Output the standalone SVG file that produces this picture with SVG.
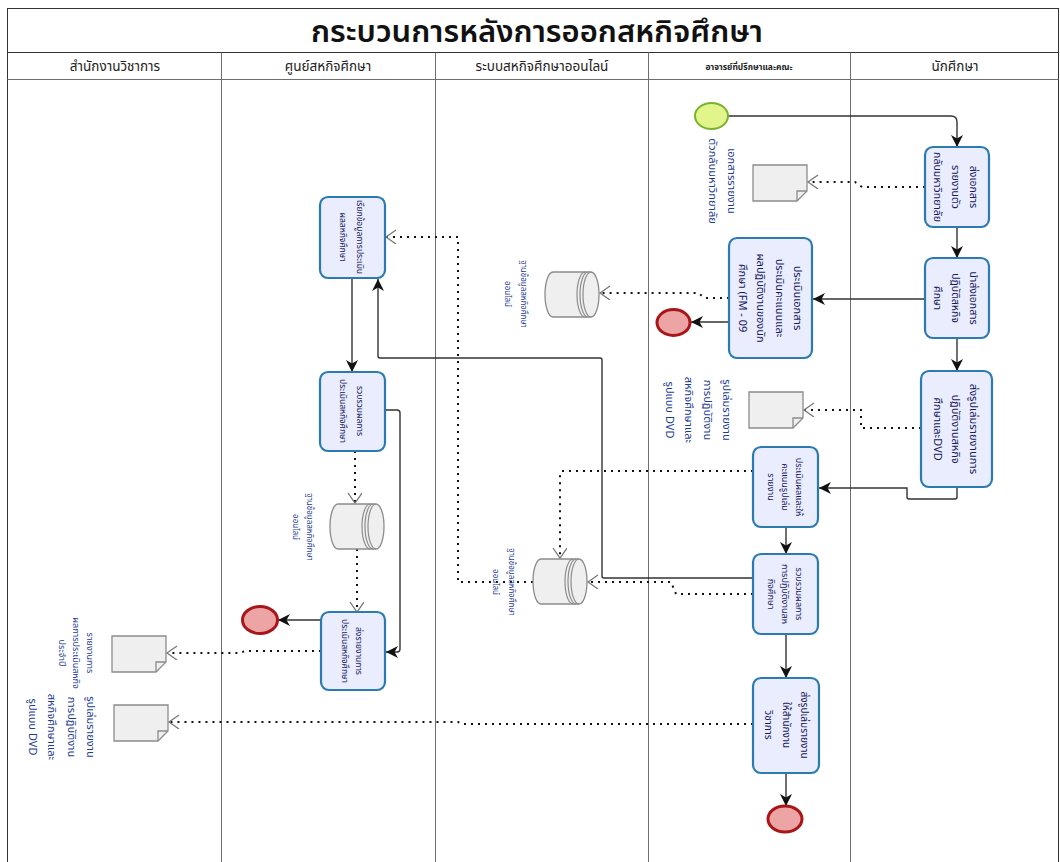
<svg xmlns="http://www.w3.org/2000/svg" width="1060" height="862" viewBox="0 0 1060 862">
<style>
text{font-family:"Noto Sans Thai","Noto Sans","DejaVu Sans","Liberation Sans",sans-serif}
.lane{stroke:#6e6e6e;stroke-width:1;fill:none}
.frame{stroke:#333;stroke-width:1;fill:none}
.title{font-size:31px;font-weight:600;fill:#111;text-anchor:middle}
.hdr{font-size:13.5px;fill:#222;text-anchor:middle}
.task{fill:#e9edfd;stroke:#2b7bb0;stroke-width:2.2}
.tt{fill:#18185c;text-anchor:middle}
.lbl{fill:#1c3d8f;text-anchor:middle}
.start{fill:#e2f58a;stroke:#78b22e;stroke-width:2}
.end{fill:#eca4a4;stroke:#a8161a;stroke-width:3}
.flow{fill:none;stroke:#333;stroke-width:1.4;marker-end:url(#arr)}
.assoc{fill:none;stroke:#111;stroke-width:2;stroke-dasharray:2 5;marker-end:url(#oarr)}
.docb{fill:#efefef;stroke:#8c8c8c;stroke-width:1.3}
</style>
<defs>
<marker id="arr" markerUnits="userSpaceOnUse" markerWidth="14" markerHeight="14" refX="12" refY="6" orient="auto">
<path d="M0,0 L12,6 L0,12 L3.5,6 Z" fill="#111"/>
</marker>
<marker id="oarr" markerUnits="userSpaceOnUse" markerWidth="16" markerHeight="16" refX="11" refY="7" orient="auto">
<path d="M1,0 L11,7 L1,14" fill="none" stroke="#777" stroke-width="1.3" stroke-dasharray="none"/>
</marker>
<g id="doc">
<path class="docb" d="M0,0 H54 V26 L44,36 H0 Z"/>
<path d="M44,36 V26 H54" fill="none" stroke="#8c8c8c" stroke-width="1.3"/>
</g>
<g id="ds">
<path class="docb" d="M8,0 H46 A8,22.5 0 0 1 46,45 H8 A8,22.5 0 0 1 8,0 Z"/>
<path d="M46,0 A8,22.5 0 0 0 46,45 M43,0 A8,22.5 0 0 0 43,45 M40,0 A8,22.5 0 0 0 40,45" fill="none" stroke="#8c8c8c" stroke-width="1.2"/>
</g>
</defs>

<g id="pool">
<rect class="frame" x="7.5" y="8.5" width="1051" height="870"/>
<line class="frame" x1="7.5" y1="52.5" x2="1058.5" y2="52.5"/>
<line class="lane" x1="7.5" y1="79.5" x2="1058.5" y2="79.5"/>
<line class="lane" x1="221.5" y1="52.5" x2="221.5" y2="862"/>
<line class="lane" x1="435.5" y1="52.5" x2="435.5" y2="862"/>
<line class="lane" x1="648.5" y1="52.5" x2="648.5" y2="862"/>
<line class="lane" x1="850.5" y1="52.5" x2="850.5" y2="862"/>
<text class="title" x="537" y="42">กระบวนการหลังการออกสหกิจศึกษา</text>
<text class="hdr" x="115" y="71">สำนักงานวิชาการ</text>
<text class="hdr" x="328" y="71">ศูนย์สหกิจศึกษา</text>
<text class="hdr" x="542" y="71">ระบบสหกิจศึกษาออนไลน์</text>
<text class="hdr" x="749" y="70" style="font-size:8.5px;font-weight:bold">อาจารย์ที่ปรึกษาและคณะ</text>
<text class="hdr" x="955" y="71">นักศึกษา</text>
</g>

<g id="connectors">
<path class="flow" d="M728,116 H951 Q957,116 957,122 V147"/>
<path class="flow" d="M957,227 V258"/>
<path class="flow" d="M957,338 V371"/>
<path class="assoc" d="M925,187 H862 L855,182 H808"/>
<path class="flow" d="M925,299 H813"/>
<path class="flow" d="M729,322 H691"/>
<path class="assoc" d="M729,298 H705 L698,293 H600"/>
<path class="assoc" d="M921,428 H861 V410 H804"/>
<path class="flow" d="M957,487 V497 Q957,499 955,499 H909 Q907,499 907,497 V488 H819"/>
<path class="flow" d="M786,527 V554"/>
<path class="assoc" d="M753,471 H562 Q560,471 560,473 V558"/>
<path class="flow" d="M753,578 H604 Q602,578 602,576 V360 Q602,358 600,358 H380 Q378,358 378,356 V279"/>
<path class="assoc" d="M753,594 H676 L671,582 H588"/>
<path class="assoc" d="M533,582 H458 V237 H386"/>
<path class="flow" d="M786,634 V678"/>
<path class="flow" d="M786,773 V806"/>
<path class="assoc" d="M753,724 H462 L458,722 H169"/>
<path class="flow" d="M352,278 V372"/>
<path class="flow" d="M385,410 H397 Q400,410 400,413 V649 Q400,652 397,652 H386"/>
<path class="assoc" d="M355,451 V503"/>
<path class="assoc" d="M357,549 V612"/>
<path class="flow" d="M321,620 H278"/>
<path class="assoc" d="M321,651 H245 L240,653 H167"/>
</g>

<g id="start"><ellipse class="start" cx="711.5" cy="116" rx="16.5" ry="13"/></g>
<g id="end1"><ellipse class="end" cx="673.5" cy="322.5" rx="16.5" ry="13"/></g>
<g id="end2"><ellipse class="end" cx="785" cy="819" rx="17" ry="13"/></g>
<g id="end3"><ellipse class="end" cx="260" cy="620" rx="17.5" ry="13.5"/></g>

<g id="t1">
<rect class="task" x="925" y="147" width="64" height="80" rx="8"/>
<text class="tt" transform="translate(956 187) rotate(90)" style="font-size:10.5px"><tspan x="0" y="-14">ส่งเอกสาร</tspan><tspan x="0" y="4">รายงานตัว</tspan><tspan x="0" y="22">กลับมหาวิทยาลัย</tspan></text>
</g>
<g id="t2">
<rect class="task" x="925" y="258" width="64" height="80" rx="8"/>
<text class="tt" transform="translate(956 298) rotate(90)" style="font-size:10.5px"><tspan x="0" y="-14">นำส่งเอกสาร</tspan><tspan x="0" y="4">ปฏิบัติสหกิจ</tspan><tspan x="0" y="22">ศึกษา</tspan></text>
</g>
<g id="t3">
<rect class="task" x="921" y="371" width="71" height="116" rx="8"/>
<text class="tt" transform="translate(956 429) rotate(90)" style="font-size:11px"><tspan x="0" y="-14">ส่งรูปเล่มรายงานการ</tspan><tspan x="0" y="4">ปฏิบัติงานสหกิจ</tspan><tspan x="0" y="22">ศึกษาและDVD</tspan></text>
</g>
<g id="t4">
<rect class="task" x="729" y="238" width="83" height="120" rx="8"/>
<text class="tt" transform="translate(770 298) rotate(90)" style="font-size:11px"><tspan x="0" y="-24">ประเมินเอกสาร</tspan><tspan x="0" y="-5.5">ประเมินคะแนนและ</tspan><tspan x="0" y="13">ผลปฏิบัติงานของนัก</tspan><tspan x="0" y="31.5">ศึกษา (FM - 09</tspan></text>
</g>
<g id="t5">
<rect class="task" x="753" y="447" width="65" height="80" rx="8"/>
<text class="tt" transform="translate(785 487) rotate(90)" style="font-size:9px"><tspan x="0" y="-10.5">ประเมินผลและให้</tspan><tspan x="0" y="3.5">คะแนนรูปเล่ม</tspan><tspan x="0" y="17.5">รายงาน</tspan></text>
</g>
<g id="t6">
<rect class="task" x="753" y="554" width="65" height="80" rx="8"/>
<text class="tt" transform="translate(785 594) rotate(90)" style="font-size:9px"><tspan x="0" y="-10.5">รวบรวมผลการ</tspan><tspan x="0" y="3.5">การปฏิบัติงานสห</tspan><tspan x="0" y="17.5">กิจศึกษา</tspan></text>
</g>
<g id="t7">
<rect class="task" x="753" y="678" width="66" height="95" rx="8"/>
<text class="tt" transform="translate(786 725) rotate(90)" style="font-size:10px"><tspan x="0" y="-14.5">ส่งรูปเล่มรายงาน</tspan><tspan x="0" y="3.5">ให้สำนักงาน</tspan><tspan x="0" y="21.5">วิชาการ</tspan></text>
</g>
<g id="t8">
<rect class="task" x="320" y="197" width="65" height="81" rx="8"/>
<text class="tt" transform="translate(352 237) rotate(90)" style="font-size:8.5px"><tspan x="0" y="-5">เรียกข้อมูลการประเมิน</tspan><tspan x="0" y="12">ผลสหกิจศึกษา</tspan></text>
</g>
<g id="t9">
<rect class="task" x="320" y="372" width="65" height="79" rx="8"/>
<text class="tt" transform="translate(352 411) rotate(90)" style="font-size:8.5px"><tspan x="0" y="-5">รวบรวมผลการ</tspan><tspan x="0" y="12">ประเมินสหกิจศึกษา</tspan></text>
</g>
<g id="t10">
<rect class="task" x="321" y="612" width="64" height="78" rx="8"/>
<text class="tt" transform="translate(352 651) rotate(90)" style="font-size:8.5px"><tspan x="0" y="-4">ส่งรายงานการ</tspan><tspan x="0" y="10">ประเมินสหกิจศึกษา</tspan></text>
</g>

<g id="d1">
<use href="#doc" x="753" y="165"/>
<text class="lbl" transform="translate(722 181) rotate(90)" style="font-size:11px"><tspan x="0" y="-5.5">เอกสารรายงาน</tspan><tspan x="0" y="13.5">ตัวกลับมหาวิทยาลัย</tspan></text>
</g>
<g id="d2">
<use href="#doc" x="749" y="392"/>
<text class="lbl" transform="translate(698 410) rotate(90)" style="font-size:11px"><tspan x="0" y="-24.5">รูปเล่มรายงาน</tspan><tspan x="0" y="-5.5">การปฏิบัติงาน</tspan><tspan x="0" y="13.5">สหกิจศึกษาและ</tspan><tspan x="0" y="32.5">รูปแบบ DVD</tspan></text>
</g>
<g id="d3">
<use href="#doc" x="112" y="636"/>
<text class="lbl" transform="translate(76 653) rotate(90)" style="font-size:9px"><tspan x="0" y="-10.5">รายงานการ</tspan><tspan x="0" y="3.5">ผลการประเมินสหกิจ</tspan><tspan x="0" y="17.5">ประจำปี</tspan></text>
</g>
<g id="d4">
<use href="#doc" x="114" y="705"/>
<text class="lbl" transform="translate(62 727) rotate(90)" style="font-size:11px"><tspan x="0" y="-25">รูปเล่มรายงาน</tspan><tspan x="0" y="-5.5">การปฏิบัติงาน</tspan><tspan x="0" y="14">สหกิจศึกษาและ</tspan><tspan x="0" y="33.5">รูปแบบ DVD</tspan></text>
</g>
<g id="s1">
<use href="#ds" x="545" y="272"/>
<text class="lbl" transform="translate(516 294) rotate(90)" style="font-size:8px"><tspan x="0" y="-5">ฐานข้อมูลสหกิจศึกษา</tspan><tspan x="0" y="11">ออนไลน์</tspan></text>
</g>
<g id="s2">
<use href="#ds" x="533" y="559"/>
<text class="lbl" transform="translate(504 582) rotate(90)" style="font-size:8px"><tspan x="0" y="-5">ฐานข้อมูลสหกิจศึกษา</tspan><tspan x="0" y="11">ออนไลน์</tspan></text>
</g>
<g id="s3">
<use href="#ds" x="330" y="504"/>
<text class="lbl" transform="translate(303 527) rotate(90)" style="font-size:8px"><tspan x="0" y="-4">ฐานข้อมูลสหกิจศึกษา</tspan><tspan x="0" y="10">ออนไลน์</tspan></text>
</g>
</svg>
